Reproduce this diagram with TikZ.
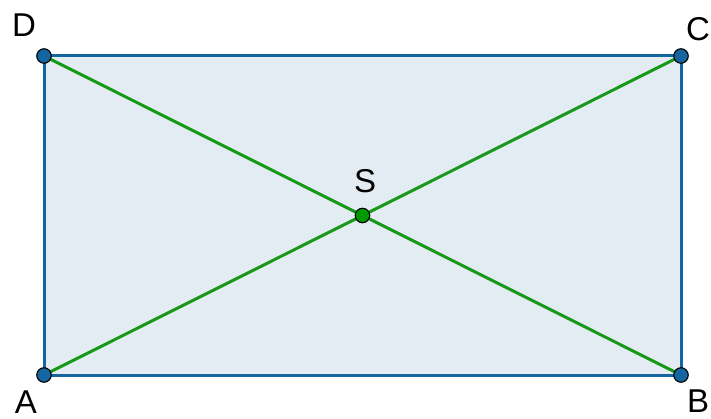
\documentclass[tikz,border=0pt]{standalone}
\usepackage{fontspec}
\setmainfont{Liberation Sans}
\definecolor{edgeblue}{RGB}{21,101,160}
\definecolor{fillblue}{RGB}{228,236,243}
\definecolor{ptblue}{RGB}{21,101,160}
\definecolor{diag}{RGB}{22,153,22}
\definecolor{ptgreen}{RGB}{0,153,0}
\begin{document}
\begin{tikzpicture}[x=1pt,y=-1pt,
  pt/.style={circle,draw=black,line width=1.1pt,fill=ptblue,inner sep=0pt,minimum size=14.5pt},
  lbl/.style={font=\fontsize{33}{33}\selectfont,inner sep=0pt,anchor=center},
  edge/.style={draw=edgeblue,line width=3pt},
  diagline/.style={draw=diag,line width=3pt}]
\useasboundingbox (0,0) rectangle (711,419);
\coordinate (A) at (44,375);
\coordinate (B) at (681,375);
\coordinate (C) at (681,56);
\coordinate (D) at (44,56);
\coordinate (S) at (362.5,215.5);
\fill[fillblue] (A) -- (B) -- (C) -- (D) -- cycle;
\draw[diagline] (A) -- (C);
\draw[diagline] (D) -- (B);
\draw[edge] (A) -- (B) -- (C) -- (D) -- cycle;
\node[pt] (pA) at (A) {};
\node[pt] (pB) at (B) {};
\node[pt] (pC) at (C) {};
\node[pt] (pD) at (D) {};
\node[pt,fill=ptgreen] (pS) at (S) {};
\node[lbl] (lD) at (24,25) {D};
\node[lbl] (lC) at (698,29) {C};
\node[lbl] (lA) at (26,402) {A};
\node[lbl] (lB) at (698,401) {B};
\node[lbl] (lS) at (365,181) {S};
\end{tikzpicture}
\end{document}
